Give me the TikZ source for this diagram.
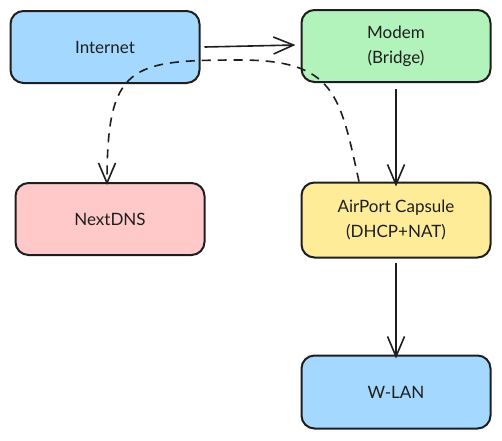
\documentclass[tikz,border=0pt]{standalone}
\usepackage{fontspec}
\setmainfont{Lato}
\usetikzlibrary{arrows.meta}
\definecolor{ink}{HTML}{1E1E1E}
\definecolor{cblue}{HTML}{A5D8FF}
\definecolor{cgreen}{HTML}{B2F2BB}
\definecolor{cpink}{HTML}{FFC9C9}
\definecolor{cyellow}{HTML}{FFEC99}
\tikzset{
  box/.style={draw=ink, line width=2pt, rounded corners=13pt, minimum width=189pt, minimum height=72pt, align=center, font=\fontsize{17}{25}\selectfont, text=ink, inner sep=0pt},
  conn/.style={draw=ink, line width=1.6pt, -{Straight Barb[length=20pt,width=17pt,line width=1.6pt]}},
  dconn/.style={conn, dash pattern=on 9pt off 7pt}
}
\begin{document}
\begin{tikzpicture}[x=1pt,y=-1pt]
\useasboundingbox (0,0) rectangle (502,440);
\node[box, fill=cblue] (inet) at (105,47) {Internet};
\node[box, fill=cgreen] (modem) at (396,46) {Modem\\(Bridge)};
\node[box, fill=cpink] (dns) at (110,219) {NextDNS};
\node[box, fill=cyellow, minimum height=75pt] (apc) at (396,220) {AirPort Capsule\\(DHCP+NAT)};
\node[box, fill=cblue, minimum height=73pt] (wlan) at (396,392) {W-LAN};
\coordinate (ds) at ([xshift=-37pt]apc.north);
\coordinate (de) at ([xshift=-3pt,yshift=-3pt]dns.north);
\draw[conn] ([xshift=4pt]inet.east) -- ([xshift=-5pt,yshift=1pt]modem.west);
\draw[conn] ([yshift=-6pt]modem.south) -- ([yshift=-5pt]apc.north);
\draw[conn] ([yshift=-4pt]apc.south) -- ([yshift=-4pt]wlan.north);
\draw[dconn] (ds) .. controls (340,95) and (335,60) .. (240,60)
  .. controls (130,60) and (107,65) .. (de);
\end{tikzpicture}
\end{document}
